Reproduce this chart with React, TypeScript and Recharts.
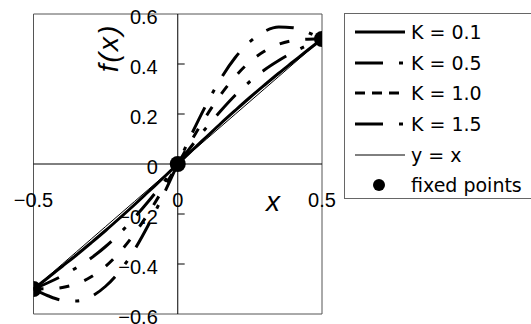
import React from "react";
import {
  ComposedChart,
  Line,
  Scatter,
  XAxis,
  YAxis,
  ReferenceLine,
  ReferenceArea,
  ReferenceDot,
} from "recharts";

const xs = [-0.5, -0.45, -0.4, -0.35, -0.3, -0.25, -0.2, -0.15, -0.1, -0.05, 0, 0.05, 0.1, 0.15, 0.2, 0.25, 0.3, 0.35, 0.4, 0.45, 0.5];
const k01 = [-0.5, -0.455, -0.409, -0.363, -0.315, -0.266, -0.215, -0.163, -0.109, -0.055, 0, 0.055, 0.109, 0.163, 0.215, 0.266, 0.315, 0.363, 0.409, 0.455, 0.5];
const k05 = [-0.5, -0.475, -0.447, -0.414, -0.376, -0.33, -0.276, -0.214, -0.147, -0.075, 0, 0.075, 0.147, 0.214, 0.276, 0.33, 0.376, 0.414, 0.447, 0.475, 0.5];
const k10 = [-0.5, -0.499, -0.494, -0.479, -0.451, -0.409, -0.351, -0.279, -0.194, -0.099, 0, 0.099, 0.194, 0.279, 0.351, 0.409, 0.451, 0.479, 0.494, 0.499, 0.5];
const k15 = [-0.5, -0.527, -0.545, -0.548, -0.53, -0.489, -0.427, -0.343, -0.24, -0.124, 0, 0.124, 0.24, 0.343, 0.427, 0.489, 0.53, 0.548, 0.545, 0.527, 0.5];
const identity = [-0.5, -0.45, -0.4, -0.35, -0.3, -0.25, -0.2, -0.15, -0.1, -0.05, 0, 0.05, 0.1, 0.15, 0.2, 0.25, 0.3, 0.35, 0.4, 0.45, 0.5];

const fixedX = [-0.5, 0, 0.5];
const fixedY = [-0.5, 0, 0.5];

const yTicks = [0.6, 0.4, 0.2, 0, -0.2, -0.4, -0.6];
const yTickLabels = ["0.6", "0.4", "0.2", "0", "\u22120.2", "\u22120.4", "\u22120.6"];
const yTickMarks = [0.4, 0.2, -0.2, -0.4];
const xTicks = [-0.5, 0, 0.5];
const xTickLabels = ["\u22120.5", "0", "0.5"];

const legendNames = ["K = 0.1", "K = 0.5", "K = 1.0", "K = 1.5", "y = x", "fixed points"];

const rows = xs.map((x, i) => ({
  x,
  k01: k01[i],
  k05: k05[i],
  k10: k10[i],
  k15: k15[i],
  yx: identity[i],
}));
const fixedPoints = fixedX.map((x, i) => ({ x, y: fixedY[i] }));

const dashDot = "28 16 4 16";
const shortDash = "10 16";

const legendStyles = [
  { dash: undefined, width: 3, marker: false },
  { dash: "28 16 4 16", width: 3, marker: false },
  { dash: "10 7", width: 3, marker: false },
  { dash: "28 16 4 16", width: 3, marker: false },
  { dash: undefined, width: 1, marker: false },
  { dash: undefined, width: 0, marker: true },
];

const tickFont = { fontSize: 20, fill: "#000", fontFamily: "'Liberation Sans', Arial, sans-serif" };

function Legend() {
  return (
    <div
      style={{
        position: "absolute",
        left: 344,
        top: 13,
        width: 189,
        height: 186,
        border: "1px solid #666",
        boxSizing: "border-box",
        background: "#fff",
        paddingTop: 3,
      }}
    >
      {legendNames.map((name, i) => {
        const st = legendStyles[i];
        return (
          <div key={name} style={{ display: "flex", alignItems: "center", height: 30.6 }}>
            <svg width={56} height={20} style={{ marginLeft: 10 }}>
              {st.marker ? (
                <circle cx={24} cy={10} r={6} fill="#000" />
              ) : (
                <line x1={0} x2={50} y1={10} y2={10} stroke="#000" strokeWidth={st.width} strokeDasharray={st.dash} />
              )}
            </svg>
            <span style={{ fontFamily: "'DejaVu Sans', sans-serif", fontSize: 19, color: "#000" }}>{name}</span>
          </div>
        );
      })}
    </div>
  );
}

export default function App() {
  return (
    <div style={{ position: "absolute", left: 0, top: 0, width: 531, height: 324, overflow: "hidden", background: "#fff" }}>
      <ComposedChart width={531} height={324} data={rows} margin={{ top: 14, right: 209, bottom: 10, left: 33.5 }}>
        <XAxis dataKey="x" type="number" domain={[-0.5, 0.5]} hide allowDataOverflow />
        <YAxis type="number" domain={[-0.6, 0.6]} hide allowDataOverflow />
        <ReferenceArea x1={-0.5} x2={0.5} y1={-0.6} y2={0.6} fill="none" stroke="#555" strokeWidth={1} />
        <ReferenceLine x={0} stroke="#000" strokeWidth={1} />
        <ReferenceLine y={0} stroke="#000" strokeWidth={1} />
        {yTickMarks.map((v) => (
          <ReferenceLine key={"tm" + v} segment={[{ x: 0, y: v }, { x: 0.024, y: v }]} stroke="#000" strokeWidth={1} />
        ))}
        {yTicks.map((v, i) => (
          <ReferenceDot
            key={"yt" + v}
            x={0}
            y={v}
            r={0}
            fill="none"
            stroke="none"
            label={{ value: yTickLabels[i], position: "left", offset: 20, dy: 3, ...tickFont }}
          />
        ))}
        {xTicks.map((v, i) => (
          <ReferenceDot
            key={"xt" + v}
            x={v}
            y={0}
            r={0}
            fill="none"
            stroke="none"
            label={{ value: xTickLabels[i], position: "bottom", offset: 29, ...tickFont }}
          />
        ))}
        <Line type="monotone" dataKey="yx" stroke="#000" strokeWidth={1} dot={false} isAnimationActive={false} />
        <Line type="monotone" dataKey="k01" stroke="#000" strokeWidth={3} dot={false} isAnimationActive={false} />
        <Line type="monotone" dataKey="k05" stroke="#000" strokeWidth={3} strokeDasharray={dashDot} dot={false} isAnimationActive={false} />
        <Line type="monotone" dataKey="k10" stroke="#000" strokeWidth={3} strokeDasharray={shortDash} dot={false} isAnimationActive={false} />
        <Line type="monotone" dataKey="k15" stroke="#000" strokeWidth={3} strokeDasharray={dashDot} dot={false} isAnimationActive={false} />
        <Scatter
          data={fixedPoints}
          dataKey="y"
          isAnimationActive={false}
          shape={(p: any) => <circle cx={p.cx} cy={p.cy} r={8} fill="#000" />}
        />
      </ComposedChart>
      <div
        style={{
          position: "absolute",
          left: 109,
          top: 48,
          transform: "translate(-50%, -50%) rotate(-90deg)",
          fontFamily: "'Liberation Sans', Arial, sans-serif",
          fontStyle: "italic",
          fontSize: 28,
          letterSpacing: 2,
          whiteSpace: "nowrap",
          lineHeight: 1,
        }}
      >
        f(x)
      </div>
      <div
        style={{
          position: "absolute",
          left: 273,
          top: 202,
          transform: "translate(-50%, -50%)",
          fontFamily: "'Liberation Sans', Arial, sans-serif",
          fontStyle: "italic",
          fontSize: 28,
          lineHeight: 1,
        }}
      >
        x
      </div>
      <Legend />
    </div>
  );
}
